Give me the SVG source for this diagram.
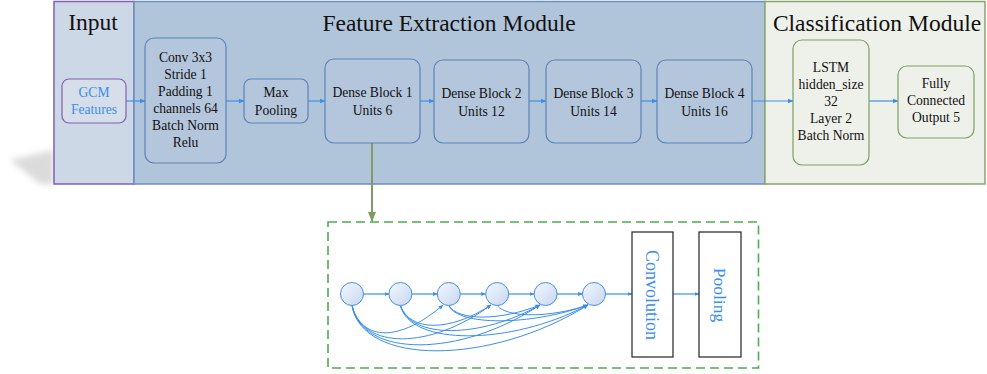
<svg xmlns="http://www.w3.org/2000/svg" width="987" height="374" viewBox="0 0 987 374">
<defs>
<style>
.t{font-family:"Liberation Serif","Times New Roman",serif;fill:#111;text-anchor:middle}
.title{font-size:23.5px}
.n{font-size:13.6px}
.blue{fill:#3b8fe8}
.fe{fill:#b4c6dc;stroke:#5b83ba;stroke-width:1.2}
.cl{fill:#eef0ea;stroke:#7f9f63;stroke-width:1.2}
.con{fill:none;stroke:#3b8fe8;stroke-width:1.2}
.cur{fill:none;stroke:#3b8fe8;stroke-width:1}
.circ{fill:url(#cg);stroke:#4a90e0;stroke-width:1}
.vb{fill:#fff;stroke:#222;stroke-width:1.2}
</style>
<linearGradient id="cg" x1="0" y1="0" x2="1" y2="1">
<stop offset="0" stop-color="#f4f8ff"/>
<stop offset="1" stop-color="#c6d6f0"/>
</linearGradient>
<marker id="ah" viewBox="0 0 10 10" refX="9" refY="5" markerWidth="6" markerHeight="6" markerUnits="userSpaceOnUse" orient="auto">
<path d="M0,1 L10,5 L0,9 z" fill="#3b8fe8"/>
</marker>
<marker id="ahs" viewBox="0 0 10 10" refX="9" refY="5" markerWidth="5" markerHeight="5" markerUnits="userSpaceOnUse" orient="auto">
<path d="M0,1 L10,5 L0,9 z" fill="#3b8fe8"/>
</marker>
<marker id="ahg" viewBox="0 0 10 10" refX="9" refY="5" markerWidth="10" markerHeight="10" markerUnits="userSpaceOnUse" orient="auto">
<path d="M0,1 L10,5 L0,9 z" fill="#7f9a65"/>
</marker>
<filter id="sh" x="-30%" y="-30%" width="160%" height="160%">
<feGaussianBlur stdDeviation="3"/>
</filter>
</defs>

<!-- panels -->
<g id="panels">
<path d="M10,160 L54,150 L54,184 L40,184 Z" fill="#999" opacity="0.35" filter="url(#sh)"/>
<rect id="input-panel" x="54" y="1.5" width="80" height="182.5" fill="#cdd8e6" stroke="#8060b0" stroke-width="1.5"/>
<rect id="fe-panel" x="134" y="1.5" width="631" height="182.5" fill="#b0c4da" stroke="#6b8fc0" stroke-width="1.5"/>
<rect id="cl-panel" x="765" y="1.5" width="220" height="182.5" fill="#eef0ea" stroke="#8aa670" stroke-width="1.5"/>
<text class="t title" x="93" y="30">Input</text>
<text class="t title" x="449" y="31">Feature Extraction Module</text>
<text class="t title" x="877" y="31">Classification Module</text>
</g>

<!-- connectors -->
<g id="connectors">
<line class="con" x1="126" y1="101" x2="145" y2="101" marker-end="url(#ah)"/>
<line class="con" x1="226" y1="101" x2="244" y2="101" marker-end="url(#ah)"/>
<line class="con" x1="308" y1="101" x2="325" y2="101" marker-end="url(#ah)"/>
<line class="con" x1="420" y1="101" x2="434" y2="101" marker-end="url(#ah)"/>
<line class="con" x1="529" y1="101" x2="546" y2="101" marker-end="url(#ah)"/>
<line class="con" x1="641" y1="101" x2="657" y2="101" marker-end="url(#ah)"/>
<line class="con" x1="752" y1="101" x2="793" y2="101" marker-end="url(#ah)"/>
<line class="con" x1="869" y1="101" x2="898" y2="101" marker-end="url(#ah)"/>
<line x1="372" y1="143" x2="372" y2="221" stroke="#7f9a65" stroke-width="2" marker-end="url(#ahg)"/>
<!-- inner chain -->
<line class="con" x1="363.5" y1="294" x2="389" y2="294" marker-end="url(#ahs)"/>
<line class="con" x1="412" y1="294" x2="437.3" y2="294" marker-end="url(#ahs)"/>
<line class="con" x1="460.3" y1="294" x2="485.7" y2="294" marker-end="url(#ahs)"/>
<line class="con" x1="508.7" y1="294" x2="534.1" y2="294" marker-end="url(#ahs)"/>
<line class="con" x1="557.1" y1="294" x2="582.5" y2="294" marker-end="url(#ahs)"/>
<line class="con" x1="605.5" y1="294" x2="632" y2="294" marker-end="url(#ahs)"/>
<line class="con" x1="673" y1="294" x2="699" y2="294" marker-end="url(#ahs)"/>
<!-- dense skip connections -->
<path class="cur" d="M352,305.5 C362,342 400,342 443,305" marker-end="url(#ahs)"/>
<path class="cur" d="M352,305.5 C362,350 430,350 491,305" marker-end="url(#ahs)"/>
<path class="cur" d="M352,305.5 C362,358 460,358 540,305" marker-end="url(#ahs)"/>
<path class="cur" d="M352,305.5 C362,366 490,366 588,305" marker-end="url(#ahs)"/>
<path class="cur" d="M400.4,305.5 C410,332 450,332 491,305" marker-end="url(#ahs)"/>
<path class="cur" d="M400.4,305.5 C410,339 480,339 540,305" marker-end="url(#ahs)"/>
<path class="cur" d="M400.4,305.5 C410,346 510,346 588,305" marker-end="url(#ahs)"/>
<path class="cur" d="M448.8,305.5 C458,321 500,321 540,305" marker-end="url(#ahs)"/>
<path class="cur" d="M448.8,305.5 C458,326 530,326 588,305" marker-end="url(#ahs)"/>
<path class="cur" d="M497.2,305.5 C507,318 550,318 588,305" marker-end="url(#ahs)"/>
</g>

<!-- nodes -->
<g id="gcm">
<rect x="62" y="79" width="64" height="44" rx="7" fill="#d6deea" stroke="#8060b0" stroke-width="1.2"/>
<text class="t n blue" x="94" y="97">GCM</text>
<text class="t n blue" x="94" y="114">Features</text>
</g>
<g id="conv">
<rect class="fe" x="145" y="38" width="81" height="125" rx="9"/>
<text class="t n" x="185.5" y="62">Conv 3x3</text>
<text class="t n" x="185.5" y="79">Stride 1</text>
<text class="t n" x="185.5" y="96">Padding 1</text>
<text class="t n" x="185.5" y="113">channels 64</text>
<text class="t n" x="185.5" y="130">Batch Norm</text>
<text class="t n" x="185.5" y="147">Relu</text>
</g>
<g id="maxpool">
<rect class="fe" x="244" y="79" width="64" height="44" rx="7"/>
<text class="t n" x="276" y="97">Max</text>
<text class="t n" x="276" y="115">Pooling</text>
</g>
<g id="db1">
<rect class="fe" x="325" y="59" width="95" height="84" rx="9"/>
<text class="t n" x="372.5" y="97">Dense Block 1</text>
<text class="t n" x="372.5" y="115">Units 6</text>
</g>
<g id="db2">
<rect class="fe" x="434" y="60" width="95" height="83" rx="9"/>
<text class="t n" x="481.5" y="98">Dense Block 2</text>
<text class="t n" x="481.5" y="116">Units 12</text>
</g>
<g id="db3">
<rect class="fe" x="546" y="60" width="95" height="83" rx="9"/>
<text class="t n" x="593.5" y="98">Dense Block 3</text>
<text class="t n" x="593.5" y="116">Units 14</text>
</g>
<g id="db4">
<rect class="fe" x="657" y="60" width="95" height="83" rx="9"/>
<text class="t n" x="704.5" y="98">Dense Block 4</text>
<text class="t n" x="704.5" y="116">Units 16</text>
</g>
<g id="lstm">
<rect class="cl" x="793" y="40" width="76" height="125" rx="9"/>
<text class="t n" x="831" y="72">LSTM</text>
<text class="t n" x="831" y="89">hidden_size</text>
<text class="t n" x="831" y="106">32</text>
<text class="t n" x="831" y="123">Layer 2</text>
<text class="t n" x="831" y="140">Batch Norm</text>
</g>
<g id="fc">
<rect class="cl" x="898" y="66" width="76" height="72" rx="9"/>
<text class="t n" x="936" y="88">Fully</text>
<text class="t n" x="936" y="105">Connected</text>
<text class="t n" x="936" y="122">Output 5</text>
</g>

<!-- dense block detail -->
<g id="dense-detail">
<rect x="328" y="222" width="430.5" height="146" fill="none" stroke="#4cae4c" stroke-width="1.6" stroke-dasharray="9,5"/>
</g>
<g id="units">
<circle class="circ" cx="352" cy="294" r="11.5"/>
<circle class="circ" cx="400.4" cy="294" r="11.5"/>
<circle class="circ" cx="448.8" cy="294" r="11.5"/>
<circle class="circ" cx="497.2" cy="294" r="11.5"/>
<circle class="circ" cx="545.6" cy="294" r="11.5"/>
<circle class="circ" cx="594" cy="294" r="11.5"/>
</g>
<g id="convolution">
<rect class="vb" x="632" y="232" width="41" height="125"/>
<text class="t blue" style="font-size:18px" transform="translate(646,295) rotate(90)" x="0" y="0">Convolution</text>
</g>
<g id="pooling">
<rect class="vb" x="699" y="232" width="42" height="125"/>
<text class="t blue" style="font-size:17.5px" transform="translate(714,295) rotate(90)" x="0" y="0">Pooling</text>
</g>
</svg>
